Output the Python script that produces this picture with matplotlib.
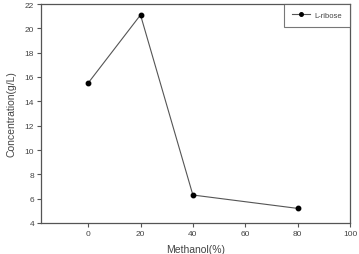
import matplotlib
matplotlib.use("Agg")
import matplotlib.pyplot as plt

methanol = [0, 20, 40, 80]
ribose = [15.5, 21.1, 6.3, 5.2]
xticks = [0, 20, 40, 60, 80, 100]
yticks = [4, 6, 8, 10, 12, 14, 16, 18, 20, 22]

plt.rcParams['font.family'] = ['Liberation Sans', 'DejaVu Sans']

fig = plt.figure(figsize=(3.59, 2.55), dpi=100)
ax = fig.add_axes([41/359, 1-224/255, (350-41)/359, (224-5)/255])

ax.plot(methanol, ribose, color='#555555', lw=0.8, marker='o', ms=3.2,
        mfc='black', mec='black', label='L-ribose')

ax.set_xlim(-18, 100)
ax.set_ylim(4, 22)
ax.set_xticks(xticks)
ax.set_yticks(yticks)
ax.tick_params(direction='out', length=3, width=0.8, labelsize=6,
               colors='#555555', labelcolor='#444444', pad=2)
for s in ax.spines.values():
    s.set_color('#555555')
    s.set_linewidth(0.9)

ax.set_ylabel('Concentration(g/L)', fontsize=7.5, color='#444444', labelpad=6)
ax.set_xlabel('Methanol(%)', fontsize=7.5, color='#444444', labelpad=5)

leg = ax.legend(loc='upper right', bbox_to_anchor=(1.0, 1.0), fontsize=5.5,
                frameon=True, fancybox=False, borderaxespad=0, handlelength=2.4,
                borderpad=1.0, handletextpad=0.6, markerscale=0.8,
                labelcolor='#444444')
leg.get_frame().set_edgecolor('#555555')
leg.get_frame().set_linewidth(0.8)

fig.savefig('out.png', dpi=100)
